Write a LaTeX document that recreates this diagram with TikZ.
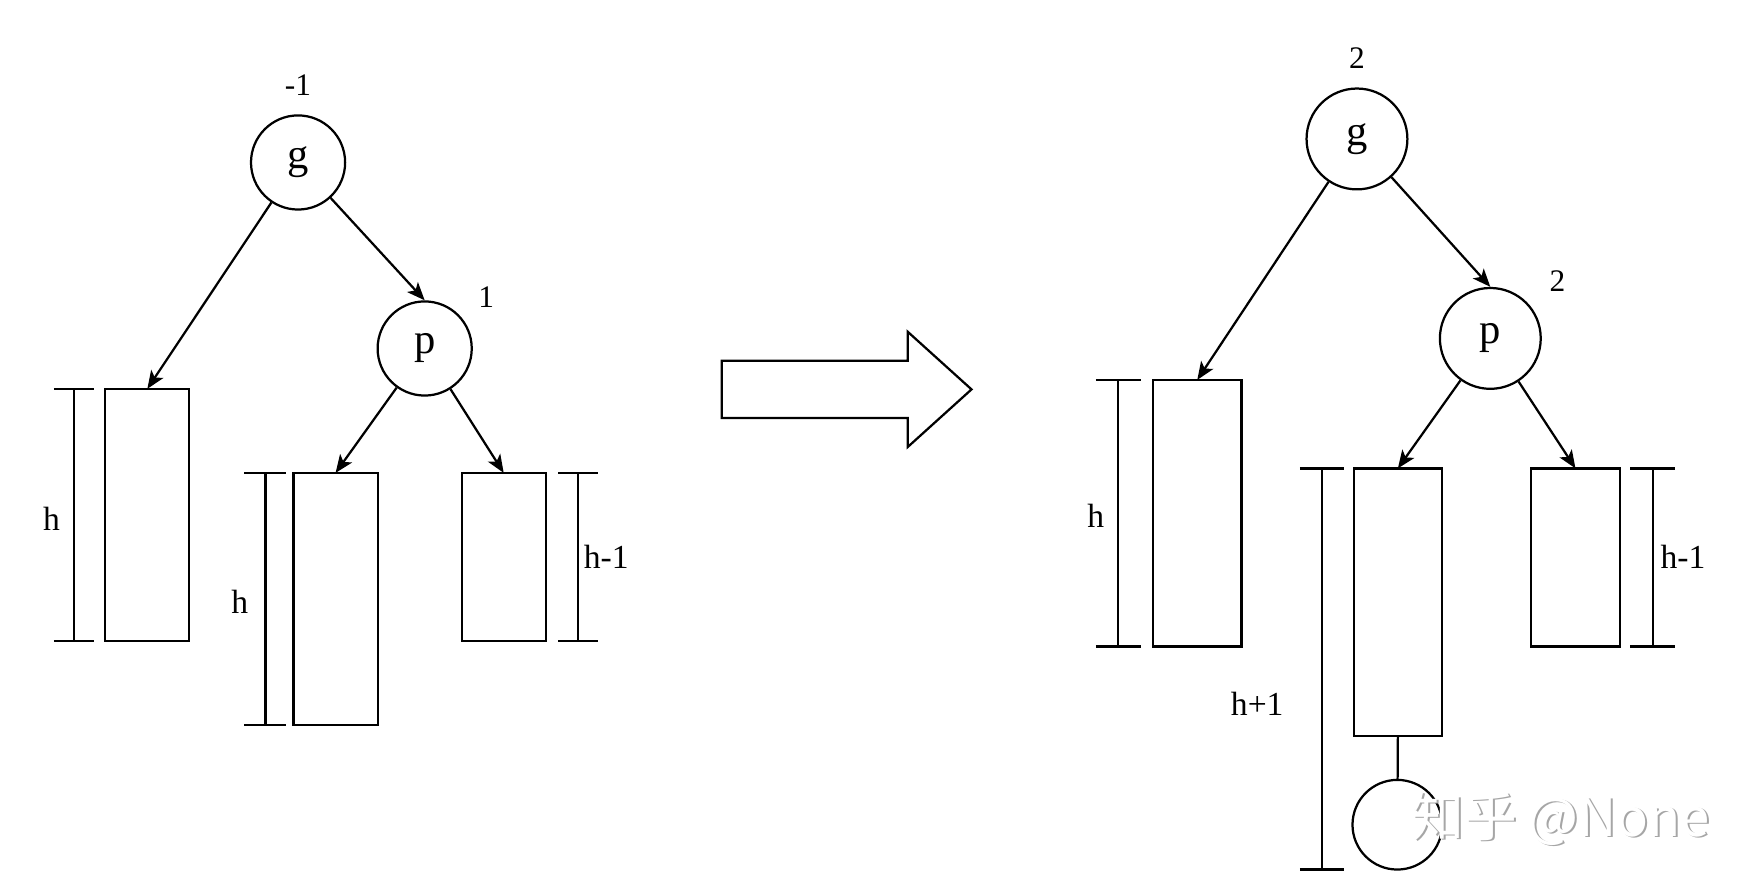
\documentclass[tikz,border=0pt]{standalone}
\usepackage{fontspec}
\setmainfont{Liberation Serif}
\newfontfamily\cjk{Noto Sans CJK SC}
\usetikzlibrary{arrows.meta}
\begin{document}
\begin{tikzpicture}[x=0.5pt,y=-0.5pt,line width=1pt,
  tnode/.style={draw,circle,inner sep=0pt,font=\fontsize{19}{19}\selectfont},
  box/.style={draw,rectangle,inner sep=0pt,outer sep=0pt,anchor=north west},
  arr/.style={-{Stealth[length=8pt,width=6.5pt,inset=2pt]}},
  lbl/.style={font=\fontsize{15}{15}\selectfont,inner sep=0pt},
  vlbl/.style={font=\fontsize{14}{14}\selectfont,inner sep=0pt}]
\useasboundingbox (0,0) rectangle (1568,797);

% ---------- left tree ----------
\node[tnode,minimum size=42pt] (g1) at (266,145) {g};
\node[vlbl] (g1v) at (266,76) {-1};
\node[tnode,minimum size=42pt] (p1) at (379,311) {p};
\node[vlbl] (p1v) at (434,265) {1};

\node[box,minimum width=37.5pt,minimum height=112.5pt] (a1) at (94,347) {};
\node[box,minimum width=37.5pt,minimum height=112.5pt] (b1) at (262,422) {};
\node[box,minimum width=37.5pt,minimum height=75pt] (c1) at (412,422) {};

\draw[arr] (g1) -- (a1.north);
\draw[arr] (g1) -- (p1.north);
\draw[arr] (p1) -- (b1.north);
\draw[arr] (p1) -- (c1.north);

\draw (48,347) -- (84,347) (66,347) -- (66,572) (48,572) -- (84,572);
\node[lbl] at (46,463) {h};
\draw (218,422) -- (255,422) (237,422) -- (237,647) (218,647) -- (255,647);
\node[lbl] at (214,537) {h};
\draw (498,422) -- (534,422) (516,422) -- (516,572) (498,572) -- (534,572);
\node[lbl] at (541,497) {h-1};

% ---------- transition arrow ----------
\draw[line join=miter] (644,322) -- (810,322) -- (810,296) -- (867,347.5) -- (810,399) -- (810,373) -- (644,373) -- cycle;

% ---------- right tree ----------
\node[tnode,minimum size=45pt] (g2) at (1211,124) {g};
\node[vlbl] (g2v) at (1211,52) {2};
\node[tnode,minimum size=45pt] (p2) at (1330,302) {p};
\node[vlbl] (p2v) at (1390,251) {2};

\node[box,minimum width=39.5pt,minimum height=119pt] (a2) at (1029,339) {};
\node[box,minimum width=39.5pt,minimum height=119.5pt] (b2) at (1208,418) {};
\node[box,minimum width=40pt,minimum height=79.5pt] (c2) at (1366,418) {};
\node[draw,circle,minimum size=40pt,inner sep=0pt] (n2) at (1247,736) {};

\draw[arr] (g2) -- (a2.north);
\draw[arr] (g2) -- (p2.north);
\draw[arr] (p2) -- (b2.north);
\draw[arr] (p2) -- (c2.north);
\draw (b2.south) -- (n2);

\draw (978,339) -- (1018,339) (998,339) -- (998,577) (978,577) -- (1018,577);
\node[lbl] at (978,460) {h};
\draw (1160,418) -- (1199,418) (1180,418) -- (1180,776) (1160,776) -- (1199,776);
\node[lbl] at (1122,628) {h+1};
\draw (1455,418) -- (1495,418) (1475,418) -- (1475,577) (1455,577) -- (1495,577);
\node[lbl] at (1502,497) {h-1};

% watermark
\node[text=black!35,font=\cjk\fontsize{23.5}{23.5}\selectfont,inner sep=0pt] (wms) at (1394.5,732) {知乎 @None};
\node[text=white,font=\cjk\fontsize{23.5}{23.5}\selectfont,inner sep=0pt] (wm) at (1393,730.5) {知乎 @None};
\end{tikzpicture}
\end{document}
